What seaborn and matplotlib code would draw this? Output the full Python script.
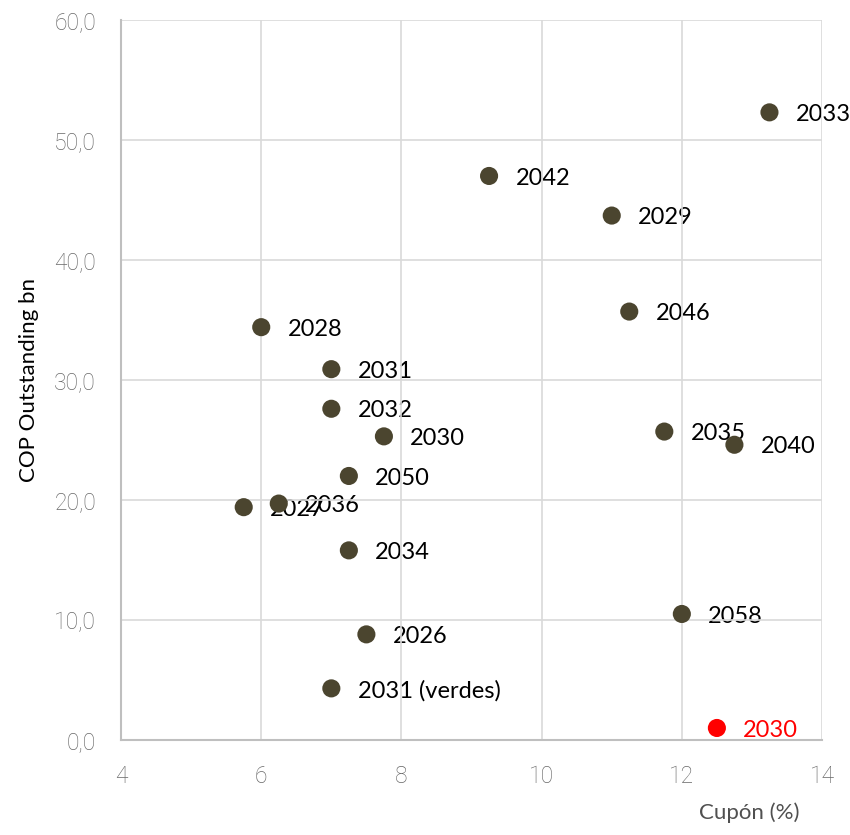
import matplotlib
matplotlib.use("Agg")
import matplotlib.pyplot as plt
import seaborn as sns
import pandas as pd
from matplotlib.ticker import FuncFormatter, MultipleLocator

# Bond maturities, coupons (%) and amount outstanding (COP bn)
labels = ["2033", "2042", "2029", "2046", "2028", "2031", "2032", "2030",
          "2035", "2040", "2050", "2036", "2027", "2034", "2058", "2026",
          "2031 (verdes)", "2030"]
coupon = [13.25, 9.25, 11.0, 11.25, 6.0, 7.0, 7.0, 7.75,
          11.75, 12.75, 7.25, 6.25, 5.75, 7.25, 12.0, 7.5,
          7.0, 12.5]
outstanding = [52.3, 47.0, 43.7, 35.7, 34.4, 30.9, 27.6, 25.3,
               25.7, 24.6, 22.0, 19.7, 19.4, 15.8, 10.5, 8.8,
               4.3, 1.0]
group = ["base"] * 17 + ["new"]

df = pd.DataFrame({"label": labels, "coupon": coupon,
                   "outstanding": outstanding, "group": group})

sns.set_theme(style="white")
plt.rcParams["font.family"] = ["Lato", "DejaVu Sans"]

fig = plt.figure(figsize=(8.5, 8.35), dpi=100)
ax = fig.add_axes([0.1424, 0.1138, 0.8247, 0.8623])

palette = {"base": "#4B452F", "new": "#FF0000"}
text_colors = {"base": "#000000", "new": "#FF0000"}
sns.scatterplot(data=df, x="coupon", y="outstanding", hue="group",
                palette=palette, s=170, edgecolor="none", legend=False,
                ax=ax, zorder=3)

# point labels sit beneath the gridlines, markers above them
for _, r in df.iterrows():
    ax.annotate(r["label"], (r["coupon"], r["outstanding"]),
                xytext=(19, -1.5), textcoords="offset points",
                ha="left", va="center", fontsize=17,
                color=text_colors[r["group"]], zorder=0.3)

ax.set_xlim(4, 14)
ax.set_ylim(0, 60)
ax.xaxis.set_major_locator(MultipleLocator(2))
ax.yaxis.set_major_locator(MultipleLocator(10))
ax.yaxis.set_major_formatter(FuncFormatter(lambda v, p: f"{v:.1f}".replace(".", ",")))
ax.grid(True, color="#d9d9d9", linewidth=1.2)
ax.set_axisbelow(True)
for side in ["top", "right"]:
    ax.spines[side].set_visible(False)
for side in ["left", "bottom"]:
    ax.spines[side].set_color("#bfbfbf")
    ax.spines[side].set_linewidth(1.5)

ax.tick_params(axis="both", length=0, labelsize=16.5, labelcolor="#686868")
ax.tick_params(axis="x", pad=18)
ax.tick_params(axis="y", pad=18)
for t in ax.get_xticklabels() + ax.get_yticklabels():
    t.set_family(["Roboto", "DejaVu Sans"])
    t.set_fontweight("light")

ax.set_xlabel("")
ax.set_ylabel("COP Outstanding bn", fontsize=16, color="#000000", labelpad=11)
fig.text(0.882, 0.014, "Cupón (%)", fontsize=16, color="#505050", ha="center", va="bottom")

fig.savefig("out.png", dpi=100)
